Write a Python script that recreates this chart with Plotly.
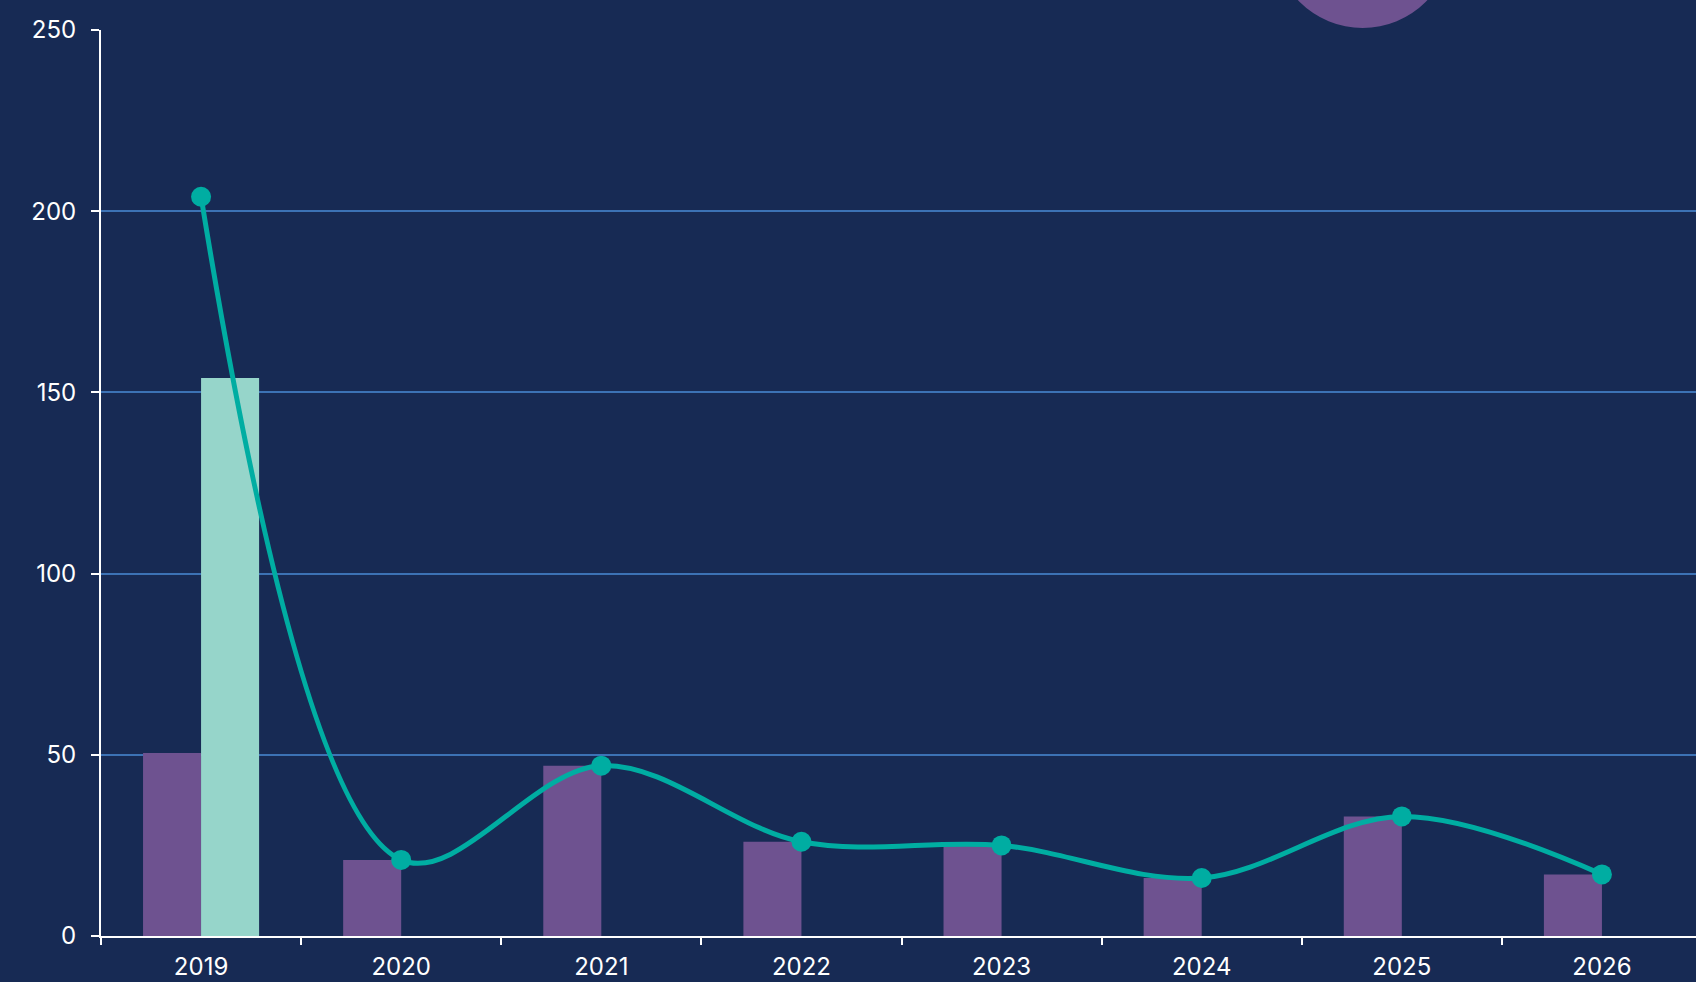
import plotly.graph_objects as go

anos = ['2019', '2020', '2021', '2022', '2023', '2024', '2025', '2026']
barras_roxas = [50.5, 21, 47, 26, 25, 16, 33, 17]
barras_verdes = [154, None, None, None, None, None, None, None]
linha_valores = [204, 21, 47, 26, 25, 16, 33, 17]

fundo = '#172A54'

fig = go.Figure()
fig.add_trace(go.Bar(
    x=anos, y=barras_roxas,
    marker_color='#6E5290', marker_line_width=0,
    name='roxo'
))
fig.add_trace(go.Bar(
    x=anos, y=barras_verdes,
    marker_color='#96D5CA', marker_line_width=0,
    name='verde'
))
fig.add_trace(go.Scatter(
    x=anos, y=linha_valores,
    mode='lines+markers',
    line=dict(color='#00ADA2', width=5, shape='spline', smoothing=1.0),
    marker=dict(size=20, color='#00ADA2'),
    name='linha', cliponaxis=False
))

# círculo decorativo no topo (cortado)
fig.add_shape(
    type='circle', xref='paper', yref='paper',
    xsizemode='pixel', ysizemode='pixel',
    xanchor=0.791, yanchor=1.1004,
    x0=-89, x1=89, y0=-89, y1=89,
    fillcolor='#6E5290', line_width=0, layer='below'
)

fig.update_layout(
    width=1696, height=982,
    plot_bgcolor=fundo,
    paper_bgcolor=fundo,
    font=dict(family='Inter', color='#FFFFFF', size=24),
    barmode='group',
    bargap=0.42,
    bargroupgap=0,
    showlegend=False,
    margin=dict(l=101, r=0, t=30, b=46)
)
fig.update_xaxes(
    type='category',
    range=[-0.5, 7.47],
    showline=True, linecolor='#FFFFFF', linewidth=2,
    ticks='outside', tickcolor='#FFFFFF', ticklen=7, tickwidth=2,
    tickson='boundaries',
    ticklabelstandoff=8,
    showgrid=False,
    tickfont=dict(size=24, color='#FFFFFF')
)
fig.update_yaxes(
    range=[0, 250],
    tickvals=[0, 50, 100, 150, 200, 250],
    showline=True, linecolor='#FFFFFF', linewidth=2,
    ticks='outside', tickcolor='#FFFFFF', ticklen=8, tickwidth=2,
    ticklabelstandoff=10,
    showgrid=True, gridcolor='#3C72B5', gridwidth=2,
    zeroline=False,
    tickfont=dict(size=24, color='#FFFFFF')
)

fig.write_html('out.html', config={'displayModeBar': False},
               post_script="document.body.style.margin='0';")
